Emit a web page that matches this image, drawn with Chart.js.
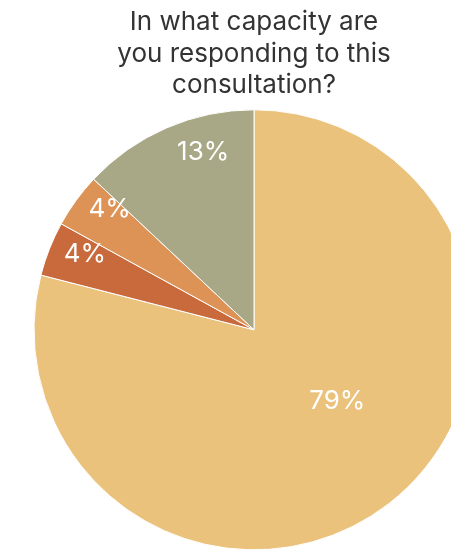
<!DOCTYPE html>
<html>
<head>
<meta charset="utf-8">
<script src="https://cdn.jsdelivr.net/npm/chart.js@4"></script>
<style>
  html, body { margin: 0; padding: 0; background: #fff; overflow: hidden; }
  #wrap { width: 451px; height: 553px; overflow: hidden; position: relative; }
  canvas { position: absolute; left: 0; top: 0; }
</style>
</head>
<body>
<div id="wrap"><canvas id="chart" width="508" height="553"></canvas></div>
<script>
const titleLines = ['In what capacity are', 'you responding to this', 'consultation?']
const categories = ['Individual', 'Organisation', 'Business', 'Other']
const shares = [79, 4, 4, 13]
const sliceColors = ['#ebc27c', '#c96a3d', '#dd9256', '#a8a786']

// Percentage text inside each slice, left-anchored on the slice's mid angle
const sliceLabels = {
  id: 'sliceLabels',
  afterDatasetsDraw(chart) {
    const { ctx } = chart
    const meta = chart.getDatasetMeta(0)
    ctx.save()
    ctx.font = '26px Inter'
    ctx.fillStyle = '#fff'
    ctx.textAlign = 'left'
    ctx.textBaseline = 'middle'
    meta.data.forEach((arc, i) => {
      const { x, y, startAngle, endAngle, outerRadius } = arc.getProps(['x', 'y', 'startAngle', 'endAngle', 'outerRadius'], true)
      const mid = (startAngle + endAngle) / 2
      const v = shares[i]
      const r = outerRadius * (v > 50 ? 0.41 : v > 10 ? 0.88 : 0.93)
      ctx.fillText(v + '%', x + Math.cos(mid) * r, y + Math.sin(mid) * r)
    })
    ctx.restore()
  }
}

new Chart(document.getElementById('chart'), {
  type: 'pie',
  data: {
    labels: categories,
    datasets: [{
      data: shares,
      backgroundColor: sliceColors,
      borderColor: '#fff',
      borderWidth: 1
    }]
  },
  options: {
    responsive: false,
    animation: false,
    devicePixelRatio: 1,
    radius: 220,
    layout: { padding: 0 },
    plugins: {
      legend: { display: false },
      tooltip: { enabled: false },
      title: {
        display: true,
        text: titleLines,
        color: '#333',
        font: { family: 'Inter', size: 26, weight: 'normal', lineHeight: 1.2 },
        padding: { top: 7, bottom: 6 }
      }
    }
  },
  plugins: [sliceLabels]
})
</script>
</body>
</html>
